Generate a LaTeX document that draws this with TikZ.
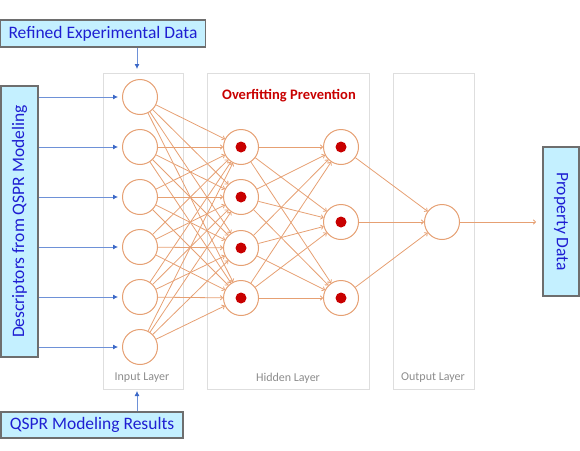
\documentclass[tikz,border=0pt]{standalone}
\usepackage{fontspec}
\setmainfont{Carlito}
\usetikzlibrary{arrows.meta}
\definecolor{nrn}{RGB}{230,160,115}
\definecolor{boxfill}{RGB}{196,240,255}
\definecolor{boxedge}{RGB}{110,110,110}
\definecolor{boxtext}{RGB}{30,30,210}
\definecolor{arrblue}{RGB}{110,145,215}
\definecolor{headblue}{RGB}{60,105,200}
\definecolor{dotred}{RGB}{200,0,0}
\definecolor{layerline}{RGB}{222,222,222}
\definecolor{layertext}{RGB}{140,140,140}
\begin{document}
\begin{tikzpicture}[x=1pt,y=-1pt,
  neuron/.style={circle,draw=nrn,line width=1pt,fill=white,minimum size=35pt,inner sep=0pt},
  conn/.style={draw=nrn,line width=0.8pt,-{To[length=3pt,width=5pt]}},
  layerbox/.style={draw=layerline,line width=0.8pt,anchor=north west,inner sep=0pt},
  layerlabel/.style={text=layertext,font=\fontsize{12}{14}\selectfont},
  infobox/.style={draw=boxedge,line width=1.3pt,fill=boxfill,text=boxtext,inner sep=0pt,
    font=\fontsize{17.5}{20}\selectfont},
  bluearrow/.style={draw=arrblue,line width=0.8pt,-{Latex[length=5pt,width=5pt,color=headblue]}},
  reddot/.style={circle,fill=dotred,minimum size=11pt,inner sep=0pt}]
\useasboundingbox (0,0) rectangle (580,450);

% layer frames
\node[layerbox,minimum width=80pt,minimum height=316pt] (inbox) at (103,73) {};
\node[layerbox,minimum width=162pt,minimum height=316pt] (hidbox) at (207,73) {};
\node[layerbox,minimum width=81pt,minimum height=316pt] (outbox) at (393,73) {};
\node[layerlabel] (inlab) at (142,378) {Input Layer};
\node[layerlabel] (hidlab) at (288,378) {Hidden Layer};
\node[layerlabel] (outlab) at (433,378) {Output Layer};

\node[text=dotred,font=\fontsize{14.5}{16}\selectfont\bfseries] (ovf) at (289,96) {Overfitting Prevention};

% neurons
\foreach \i/\y in {1/97,2/147,3/197,4/247,5/297,6/347}
  \node[neuron] (in\i) at (140,\y) {};
\foreach \i/\y in {1/147,2/197,3/248,4/298}
  \node[neuron] (ha\i) at (241,\y) {};
\foreach \i/\y in {1/147,2/222,3/298}
  \node[neuron] (hb\i) at (341,\y) {};
\node[neuron] (out) at (442,222) {};

% connections
\foreach \i in {1,...,6}
  \foreach \j in {1,...,4}
    \draw[conn] (in\i) -- (ha\j);
\foreach \i in {1,...,4}
  \foreach \j in {1,...,3}
    \draw[conn] (ha\i) -- (hb\j);
\foreach \i in {1,...,3}
  \draw[conn] (hb\i) -- (out);

\foreach \i in {1,...,4}
  \node[reddot] (da\i) at (ha\i) {};
\foreach \i in {1,...,3}
  \node[reddot] (db\i) at (hb\i) {};

% info boxes
\node[infobox,minimum width=205pt,minimum height=27pt] (refined) at (103,33.5) {Refined Experimental Data};
\node[infobox,minimum width=182pt,minimum height=26pt] (results) at (92,425) {QSPR Modeling Results};
\node[infobox,rotate=90,minimum width=271pt,minimum height=37pt] (desc) at (19.5,221.5) {Descriptors from QSPR Modeling};
\node[infobox,rotate=-90,minimum width=149pt,minimum height=36pt] (prop) at (561,221.5) {Property Data};

% blue arrows
\coordinate (topend) at (137,69);
\coordinate (botend) at (137,391);
\draw[bluearrow] (refined.south -| topend) -- (topend);
\draw[bluearrow] (results.north -| botend) -- (botend);
\foreach \i in {1,...,6}
  \draw[bluearrow,shorten >=4pt] (desc.south |- in\i) -- (in\i.west);

% output
\coordinate (outend) at (536,222);
\draw[conn] (out) -- (outend);
\end{tikzpicture}
\end{document}
